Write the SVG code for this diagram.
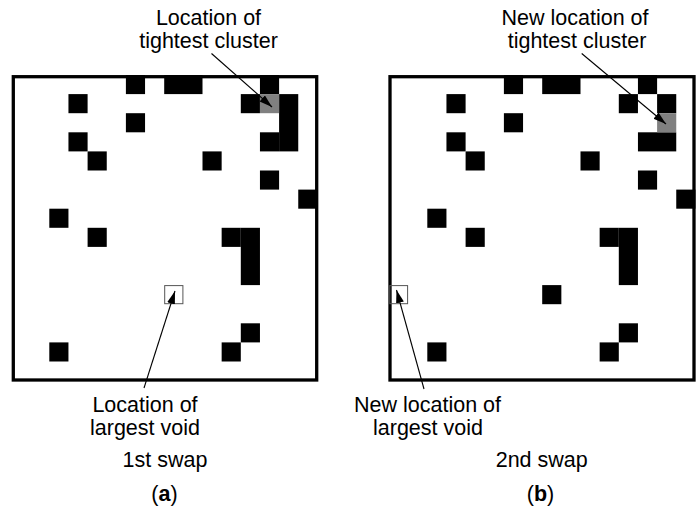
<svg xmlns="http://www.w3.org/2000/svg" width="698" height="513" viewBox="0 0 698 513">
<style>
  text { font-family: "Liberation Sans", Arial, sans-serif; font-size: 21.5px; fill: #000; text-anchor: middle; }
  .frame { fill: none; stroke: #000; stroke-width: 3.3; }
  .blk { fill: #000; }
  .gry { fill: #808080; }
  .void { fill: none; stroke: #555; stroke-width: 1; }
  .lead { stroke: #000; stroke-width: 1.1; fill: none; marker-end: url(#ah); }
</style>
<defs>
  <marker id="ah" markerUnits="userSpaceOnUse" markerWidth="14" markerHeight="10" refX="13" refY="4" orient="auto">
    <path d="M0,0 L13,4 L0,8 z" fill="#000"/>
  </marker>
</defs>

<g id="panel-a">
  <g transform="translate(11 75) scale(19.15 19.1)" class="blk">
    <rect x="6" y="0" width="1" height="1"/>
    <rect x="8" y="0" width="2" height="1"/>
    <rect x="13" y="0" width="1" height="1"/>
    <rect x="3" y="1" width="1" height="1"/>
    <rect x="12" y="1" width="1" height="1"/>
    <rect x="14" y="1" width="1" height="3"/>
    <rect x="6" y="2" width="1" height="1"/>
    <rect x="3" y="3" width="1" height="1"/>
    <rect x="13" y="3" width="1" height="1"/>
    <rect x="4" y="4" width="1" height="1"/>
    <rect x="10" y="4" width="1" height="1"/>
    <rect x="13" y="5" width="1" height="1"/>
    <rect x="15" y="6" width="1" height="1"/>
    <rect x="2" y="7" width="1" height="1"/>
    <rect x="4" y="8" width="1" height="1"/>
    <rect x="11" y="8" width="1" height="1"/>
    <rect x="12" y="8" width="1" height="3"/>
    <rect x="12" y="13" width="1" height="1"/>
    <rect x="2" y="14" width="1" height="1"/>
    <rect x="11" y="14" width="1" height="1"/>
    <rect x="13" y="1" width="1" height="1" class="gry"/>
  </g>
  <rect class="frame" x="13.3" y="76.7" width="303.4" height="303.3"/>
  <rect class="void" x="164.7" y="285.6" width="18.2" height="18.1"/>
</g>

<g id="panel-b">
  <g transform="translate(389 75) scale(19.15 19.1)" class="blk">
    <rect x="6" y="0" width="1" height="1"/>
    <rect x="8" y="0" width="2" height="1"/>
    <rect x="13" y="0" width="1" height="1"/>
    <rect x="3" y="1" width="1" height="1"/>
    <rect x="12" y="1" width="1" height="1"/>
    <rect x="14" y="1" width="1" height="1"/>
    <rect x="6" y="2" width="1" height="1"/>
    <rect x="3" y="3" width="1" height="1"/>
    <rect x="13" y="3" width="2" height="1"/>
    <rect x="4" y="4" width="1" height="1"/>
    <rect x="10" y="4" width="1" height="1"/>
    <rect x="13" y="5" width="1" height="1"/>
    <rect x="15" y="6" width="1" height="1"/>
    <rect x="2" y="7" width="1" height="1"/>
    <rect x="4" y="8" width="1" height="1"/>
    <rect x="11" y="8" width="1" height="1"/>
    <rect x="12" y="8" width="1" height="3"/>
    <rect x="8" y="11" width="1" height="1"/>
    <rect x="12" y="13" width="1" height="1"/>
    <rect x="2" y="14" width="1" height="1"/>
    <rect x="11" y="14" width="1" height="1"/>
    <rect x="14" y="2" width="1" height="1" class="gry"/>
  </g>
  <rect class="frame" x="390" y="76.7" width="304" height="303.3"/>
  <rect class="void" x="389.8" y="285.6" width="17.8" height="18.1"/>
</g>

<g id="connectors">
  <line class="lead" x1="211.5" y1="53.5" x2="272" y2="107"/>
  <line class="lead" x1="581.7" y1="53.5" x2="666" y2="124"/>
  <line class="lead" x1="144" y1="388" x2="175" y2="291"/>
  <line class="lead" x1="424" y1="389" x2="396.5" y2="290"/>
</g>

<g id="labels">
  <text x="208.5" y="25">Location of</text>
  <text x="208.5" y="48.3">tightest cluster</text>
  <text x="575" y="25">New location of</text>
  <text x="577" y="48.3">tightest cluster</text>
  <text x="145" y="411.7">Location of</text>
  <text x="145" y="435">largest void</text>
  <text x="165" y="467.3">1st swap</text>
  <text x="164.5" y="501">(<tspan font-weight="bold">a</tspan>)</text>
  <text x="427.5" y="411.7">New location of</text>
  <text x="428" y="435">largest void</text>
  <text x="541.7" y="467.3">2nd swap</text>
  <text x="540.5" y="501">(<tspan font-weight="bold">b</tspan>)</text>
</g>
</svg>
